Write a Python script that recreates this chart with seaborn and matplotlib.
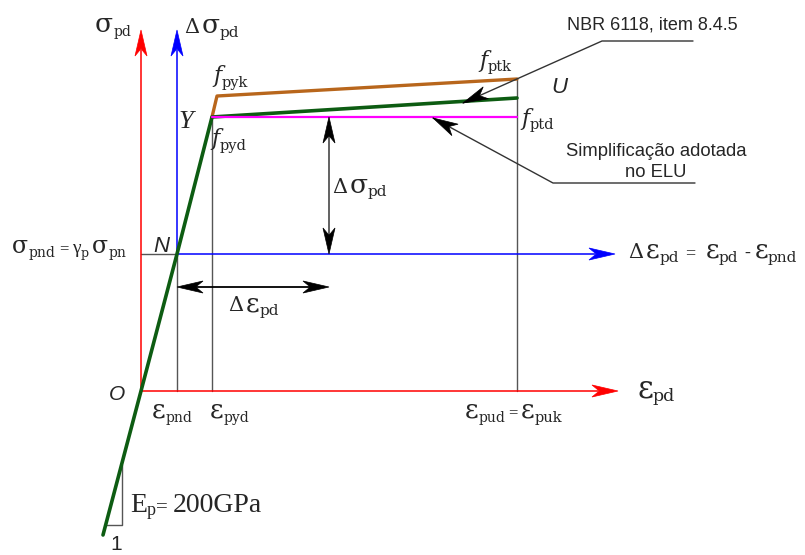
import numpy as np
import pandas as pd
import matplotlib
matplotlib.use("Agg")
import matplotlib.pyplot as plt
from matplotlib.patches import Polygon
import seaborn as sns

# ---- diagram values (schematic units, origin at O) ----
eps_pnd = 36.0      # strain at neutralisation point N
eps_pyd = 71.0      # yield strain (point Y)
eps_pud = 376.0     # ultimate strain (point U)
sig_pnd = 137.0     # stress at N
f_pyd = 274.0       # design yield stress
f_ptd = 274.0       # design ultimate stress (simplified ELU branch)
f_pyk = 295.0       # characteristic yield stress
f_ptk = 312.0       # characteristic ultimate stress
f_green_end = 293.0 # NBR 6118 design branch at eps_pud
eps_low, sig_low = -38.0, -144.0  # extension of elastic branch below O

# curves
design_eps = [eps_low, 0.0, eps_pnd, eps_pyd, eps_pud]
design_sig = [sig_low, 0.0, sig_pnd, f_pyd, f_green_end]
charac_eps = [eps_pyd, eps_pyd + 5.0, eps_pud]
charac_sig = [f_pyd, f_pyk, f_ptk]
simpl_eps = [eps_pyd, eps_pud]
simpl_sig = [f_ptd, f_ptd]

# axis extents
sig_axis_top = 361.0
eps_axis_end = 477.0
deps_axis_end = 474.0

sns.set_style("white")

fig = plt.figure(figsize=(8.05, 5.55), dpi=100)
ax = fig.add_axes([0, 0, 1, 1])
ax.set_xlim(-141, 664)
ax.set_ylim(-164, 391)
ax.axis("off")
renderer = fig.canvas.get_renderer()

RED, BLUE = "#ff0000", "#0000ff"
GREEN, BROWN, MAGENTA = "#0d5c12", "#b8661c", "#ff00ff"
GRAY = "#555555"
SANS = "Liberation Sans"


def head(tip, direction, color, L=26.0, W=6.0, notch=0.72, z=6):
    d = np.asarray(direction, float)
    d = d / np.hypot(*d)
    n = np.array([-d[1], d[0]])
    t = np.asarray(tip, float)
    pts = [t, t - L * d + W * n, t - notch * L * d, t - L * d - W * n]
    ax.add_patch(Polygon(pts, closed=True, facecolor=color, edgecolor=color,
                         linewidth=0.5, zorder=z))


# guide lines
gl = dict(color=GRAY, lw=1.0, zorder=1)
ax.plot([eps_pnd, eps_pnd], [0, sig_pnd], **gl)
ax.plot([eps_pyd, eps_pyd], [0, f_pyd], **gl)
ax.plot([eps_pud, eps_pud], [0, f_ptk], **gl)
ax.plot([0, eps_pnd], [sig_pnd, sig_pnd], **gl)

# red axes
ax.plot([0, 0], [0, sig_axis_top - 20], color=RED, lw=1.1, zorder=2)
head((0, sig_axis_top), (0, 1), RED)
ax.plot([0, eps_axis_end - 20], [0, 0], color=RED, lw=1.1, zorder=2)
head((eps_axis_end, 0), (1, 0), RED)

# blue axes (shifted origin at N)
ax.plot([eps_pnd, eps_pnd], [sig_pnd, sig_axis_top - 20], color=BLUE, lw=1.1, zorder=2)
head((eps_pnd, sig_axis_top), (0, 1), BLUE)
ax.plot([eps_pnd, deps_axis_end - 20], [sig_pnd, sig_pnd], color=BLUE, lw=1.1, zorder=2)
head((deps_axis_end, sig_pnd), (1, 0), BLUE)

# stress-strain curves
sns.lineplot(x=charac_eps, y=charac_sig, sort=False, estimator=None,
             color=BROWN, lw=2.4, ax=ax, zorder=3)
sns.lineplot(x=simpl_eps, y=simpl_sig, sort=False, estimator=None,
             color=MAGENTA, lw=1.6, ax=ax, zorder=4)
sns.lineplot(x=design_eps, y=design_sig, sort=False, estimator=None,
             color=GREEN, lw=2.6, ax=ax, zorder=3.5)

# delta sigma dimension arrow
x_ds = 188.0
ax.plot([x_ds, x_ds], [sig_pnd + 10, f_ptd - 10], color=GRAY, lw=1.3, zorder=5)
head((x_ds, f_ptd), (0, 1), "black")
head((x_ds, sig_pnd), (0, -1), "black")

# delta epsilon dimension arrow
y_de = 104.0
x_de_end = 188.0
ax.plot([eps_pnd + 10, x_de_end - 10], [y_de, y_de], color="black", lw=1.3, zorder=5)
head((eps_pnd, y_de), (-1, 0), "black")
head((x_de_end, y_de), (1, 0), "black")

# leader: NBR 6118
nbr_tip = (322.0, 288.0)
nbr_knee = (461.0, 350.0)
nbr_end = (552.0, 350.0)
ax.plot([nbr_end[0], nbr_knee[0], nbr_tip[0]], [nbr_end[1], nbr_knee[1], nbr_tip[1]],
        color="#333333", lw=1.0, zorder=5)
head(nbr_tip, (nbr_tip[0] - nbr_knee[0], nbr_tip[1] - nbr_knee[1]), "black", L=25, W=6.5)

# leader: simplified ELU branch
sim_tip = (292.0, f_ptd - 1)
sim_knee = (412.0, 208.0)
sim_end = (554.0, 208.0)
ax.plot([sim_end[0], sim_knee[0], sim_tip[0]], [sim_end[1], sim_knee[1], sim_tip[1]],
        color="#333333", lw=1.0, zorder=5)
head(sim_tip, (sim_tip[0] - sim_knee[0], sim_tip[1] - sim_knee[1]), "black", L=25, W=6.5)

# slope triangle
ax.plot([-19, -19, -36], [-74, -134, -134], color=GRAY, lw=1.0, zorder=1)


# ---- labels ----
# a run of pieces: (text, size, drop, gap, family, style)
GR = "DejaVu Serif"
TM = "Liberation Serif"


def P(s, size, drop=0.0, gap=0.0, family=GR, style="normal"):
    return (s, size, drop, gap, family, style)


def rich(px, py, pieces, ha="left"):
    """Lay out pieces on a common baseline; px, py are figure pixels."""
    x0, y0 = px - 141.0, 391.0 - py
    objs, widths = [], []
    for s, size, drop, gap, fam, sty in pieces:
        t = ax.text(0, 0, s, fontsize=size, family=fam, style=sty,
                    ha="left", va="baseline", zorder=7)
        objs.append(t)
        widths.append(t.get_window_extent(renderer).width)
    total = sum(w + p[3] for w, p in zip(widths, pieces))
    cx = {"left": 0.0, "center": -total / 2, "right": -total}[ha]
    for t, w, p in zip(objs, widths, pieces):
        cx += p[3]
        t.set_position((x0 + cx, y0 - p[2]))
        cx += w


SG, SS = 19, 10      # greek symbol, subscript
SD = 15              # delta
FI = 16              # italic f

def sub(s, drop=4.0, size=SS):
    return P(s, size, drop=drop)

rich(95, 32, [P("σ", SG), sub("pd")])
rich(184, 33, [P("Δ", SD), P("σ", SG, gap=2), sub("pd", 4, 11)])
rich(213, 82, [P("f", FI, style="italic"), sub("pyk", 5, 10.5)])
rich(211, 145, [P("f", FI, style="italic"), sub("pyd", 5, 10.5)])
rich(479, 67, [P("f", FI, style="italic"), sub("ptk", 4, 10.5)])
rich(521, 125, [P("f", FI, style="italic"), sub("ptd", 4, 10.5)])
rich(559, 93, [P("U", 16, family=SANS, style="italic")], ha="center")
rich(652, 30, [P("NBR 6118, item 8.4.5", 13, family=SANS)], ha="center")
rich(656, 156, [P("Simplificação adotada", 13.3, family=SANS)], ha="center")
rich(656, 177, [P("no ELU", 13.3, family=SANS)], ha="center")
rich(186, 128, [P("Y", 19, family=TM, style="italic")], ha="center")
rich(161, 252, [P("N", 16, family=SANS, style="italic")], ha="center")
rich(12, 253, [P("σ", 17), sub("pnd"), P("=", 12, gap=4, family=TM),
               P("γ", 14, gap=4, family=TM), sub("p", 4, 9),
               P("σ", 17, gap=3), sub("pn")])
rich(332, 193, [P("Δ", SD), P("σ", SG, gap=2), sub("pd", 3, 11)])
rich(228, 311, [P("Δ", SD), P("ε", SG, gap=3), sub("pd", 4, 11)])
rich(628, 258, [P("Δ", SD), P("ε", SG, gap=3), sub("pd", 4, 11),
                P("=", 13, gap=6, family=TM), P("ε", SG, gap=10), sub("pd", 4, 11),
                P("-", 13, gap=6, family=TM), P("ε", SG, gap=4), sub("pnd", 4, 11)])
rich(117, 400, [P("O", 15, family=SANS, style="italic")], ha="center")
rich(152, 417, [P("ε", SG), sub("pnd", 5)])
rich(210, 417, [P("ε", SG), sub("pyd", 5)])
rich(465, 417, [P("ε", SG), sub("pud", 5), P("=", 12, gap=3, family=TM),
                P("ε", SG, gap=3), sub("puk", 5, 10.5)])
rich(637, 398, [P("ε", 22), sub("pd", 3, 12.5)])
rich(130, 512, [P("E", 20, family=TM), P("p", 13, drop=3, family=TM),
                P("=", 15, family=TM), P("200GPa", 20, gap=5, family=TM)])
rich(116, 550, [P("1", 15, family=SANS)], ha="center")

fig.savefig("out.png", dpi=100)
